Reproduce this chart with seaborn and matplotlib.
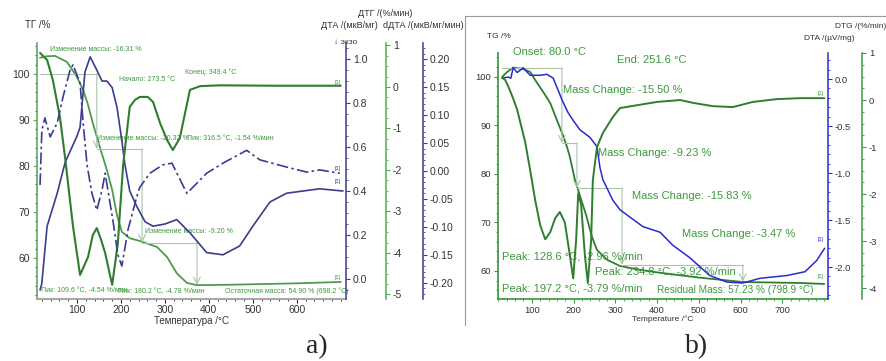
import matplotlib
matplotlib.use("Agg")
import matplotlib.pyplot as plt
from matplotlib.ticker import MultipleLocator, FormatStrFormatter
import numpy as np
import seaborn as sns

sns.set_theme(style="white")
plt.rcParams['font.family'] = ['Liberation Sans', 'DejaVu Sans']

# ---------------- panel a) (Russian, NETZSCH style) ----------------
a_tg_t = [16, 30, 50, 77, 89, 100, 114, 125, 136, 152, 168, 180, 191, 202, 220, 243, 282, 305, 327, 350, 373, 450, 600, 700]
a_tg = [103.5, 103.8, 103.9, 102.6, 100.9, 99.3, 96.5, 93.3, 89.3, 84.1, 79.1, 74.8, 69.3, 65.7, 64.3, 63.7, 62.4, 60.2, 56.7, 54.6, 54.1, 54.2, 54.5, 54.8]

a_dtg_t = [16, 32, 45, 61, 73, 91, 107, 125, 136, 145, 155, 164, 180, 193, 198, 205, 214, 220, 232, 243, 261, 273, 289, 305, 318, 334, 345, 357, 380, 425, 550, 700]
a_dtg = [0.82, 0.65, 0.17, -0.72, -1.71, -3.37, -4.53, -4.1, -3.57, -3.4, -3.69, -4.0, -4.77, -3.76, -2.96, -1.88, -1.04, -0.48, -0.31, -0.24, -0.24, -0.36, -0.87, -1.28, -1.52, -1.23, -0.67, -0.07, 0.02, 0.04, 0.03, 0.03]

a_dta_t = [16, 20, 32, 55, 73, 100, 107, 118, 130, 145, 157, 168, 180, 191, 202, 209, 220, 236, 255, 273, 300, 327, 357, 395, 432, 470, 500, 539, 577, 614, 652, 705]
a_dta = [-0.05, -0.02, 0.24, 0.39, 0.53, 0.65, 0.69, 0.94, 1.01, 0.95, 0.90, 0.90, 0.87, 0.78, 0.63, 0.52, 0.40, 0.33, 0.26, 0.24, 0.25, 0.27, 0.21, 0.12, 0.11, 0.15, 0.24, 0.35, 0.39, 0.40, 0.41, 0.40]

a_ddta_t = [16, 20, 27, 39, 55, 68, 84, 91, 107, 114, 123, 134, 145, 157, 164, 182, 193, 202, 216, 236, 243, 266, 295, 316, 350, 395, 432, 486, 516, 577, 623, 652, 698]
a_ddta = [-0.025, 0.073, 0.095, 0.061, 0.086, 0.132, 0.18, 0.19, 0.157, 0.086, 0.01, -0.04, -0.07, -0.034, -0.004, -0.09, -0.15, -0.17, -0.105, -0.046, -0.029, -0.004, 0.011, 0.014, -0.04, -0.004, 0.014, 0.037, 0.02, 0.007, -0.002, 0.002, -0.004]

a_step_t = [16, 145, 248, 373]
a_mass_changes = [-16.31, -20.32, -9.20]

# ---------------- panel b) (English) ----------------
b_tg_t = [29, 41, 55, 79, 96, 112, 127, 144, 158, 172, 184, 191, 203, 215, 230, 244, 256, 280, 311, 359, 407, 502, 605, 742, 800]
b_tg = [100, 101, 101.9, 101.6, 101, 98.8, 96.9, 94.6, 91.5, 88.5, 85.6, 83.5, 78.8, 75.5, 71.5, 67, 64.3, 62.3, 61, 60.2, 59.6, 58.6, 57.7, 57.5, 57.3]

b_dtg_t = [29, 36, 43, 55, 65, 77, 84, 96, 108, 120, 132, 144, 156, 167, 179, 191, 199, 206, 211, 218, 227, 234, 242, 246, 256, 270, 294, 311, 352, 400, 455, 486, 533, 581, 629, 687, 742, 800]
b_dtg = [0.47, 0.43, 0.3, 0.04, -0.21, -0.64, -0.89, -1.49, -2.13, -2.66, -2.96, -2.81, -2.51, -2.38, -2.6, -3.3, -3.79, -2.98, -1.98, -2.23, -3.3, -3.89, -2.98, -1.7, -1.0, -0.7, -0.36, -0.17, -0.11, -0.04, 0.0, -0.06, -0.13, -0.15, -0.04, 0.02, 0.04, 0.04]

b_dta_t = [29, 43, 50, 55, 65, 74, 79, 96, 120, 136, 151, 163, 172, 187, 199, 215, 239, 256, 263, 270, 294, 311, 335, 366, 407, 438, 478, 526, 567, 605, 646, 711, 754, 782, 801]
b_dta = [0.01, 0.02, 0.01, 0.12, 0.07, 0.1, 0.12, 0.04, 0.04, 0.05, 0.01, -0.12, -0.22, -0.36, -0.44, -0.54, -0.62, -0.72, -0.94, -1.07, -1.29, -1.39, -1.47, -1.57, -1.63, -1.77, -1.90, -2.09, -2.16, -2.17, -2.12, -2.09, -2.05, -1.93, -1.80]

b_step_t = [29, 172, 208, 316, 605]
b_start_level = 101.8
b_mass_changes = [-15.50, -9.23, -15.83, -3.47]

GREEN = "#2f7d2f"
GREEN_L = "#4f9a4f"
TXT_G = "#3c9a3c"
NAVY = "#3c3c8c"
BLUE = "#2a2ad0"
BRACKET = "#a9c4a9"
W, H = 887, 361

fig = plt.figure(figsize=(W / 100, H / 100), dpi=100)


def px_axes(l, r, t, b):
    return [l / W, 1 - b / H, (r - l) / W, (b - t) / H]


def style_twin(ax, pos, color, fmt, major, minor, size):
    for s in ["left", "top", "bottom"]:
        ax.spines[s].set_visible(False)
    ax.spines["right"].set_visible(True)
    ax.spines["right"].set_color(color)
    ax.spines["right"].set_linewidth(1.1)
    if pos is not None:
        ax.spines["right"].set_position(("axes", pos))
    ax.yaxis.set_major_locator(MultipleLocator(major))
    ax.yaxis.set_minor_locator(MultipleLocator(minor))
    ax.yaxis.set_major_formatter(FormatStrFormatter(fmt))
    ax.tick_params(axis="y", which="major", length=3, width=0.8, color=color, labelsize=size, labelcolor="#333333", pad=2, right=True)
    ax.tick_params(axis="y", which="minor", length=1.5, width=0.6, color=color, right=True)
    ax.grid(False)


def brackets(ax, temps, start, changes):
    level = start
    for i, ch in enumerate(changes):
        ax.plot([temps[i], temps[i + 1]], [level, level], color=BRACKET, lw=0.8)
        ax.annotate("", xy=(temps[i + 1], level + ch), xytext=(temps[i + 1], level),
                    arrowprops=dict(arrowstyle="->", color=BRACKET, lw=0.8, shrinkA=0, shrinkB=0))
        level += ch
    return level


# ===== panel a =====
ax = fig.add_axes(px_axes(37, 346, 43, 299))
ax_dta = ax.twinx()
ax_dtg = ax.twinx()
ax_dd = ax.twinx()

sns.lineplot(x=a_tg_t, y=a_tg, ax=ax, color=GREEN_L, lw=1.3)
sns.lineplot(x=a_dtg_t, y=a_dtg, ax=ax_dtg, color=GREEN, lw=1.5)
sns.lineplot(x=a_dta_t, y=a_dta, ax=ax_dta, color=NAVY, lw=1.2)
sns.lineplot(x=a_ddta_t, y=a_ddta, ax=ax_dd, color=NAVY, lw=1.2, linestyle=(0, (7, 2, 1.5, 2)))

ax.set_xlim(9, 712)
ax.set_ylim(51.1, 106.7)
ax_dta.set_ylim(-0.091, 1.073)
ax_dtg.set_ylim(-5.11, 1.06)
ax_dd.set_ylim(-0.229, 0.229)

for s in ["top", "right"]:
    ax.spines[s].set_visible(False)
ax.spines["left"].set_color("#6aa86a")
ax.spines["bottom"].set_color("#9a9a9a")
ax.xaxis.set_minor_locator(MultipleLocator(20))
ax.yaxis.set_major_locator(MultipleLocator(10))
ax.yaxis.set_minor_locator(MultipleLocator(2))
ax.set_xticks([100, 200, 300, 400, 500, 600])
ax.tick_params(axis="both", which="major", length=3, width=0.8, labelsize=7.5, labelcolor="#333333", pad=2, bottom=True, left=True)
ax.tick_params(axis="both", which="minor", length=1.5, width=0.6, bottom=True, left=True)
ax.tick_params(axis="y", colors="#6aa86a", labelcolor="#333333")
ax.tick_params(axis="x", pad=1)
ax.set_xlabel("")
ax.grid(False)

style_twin(ax_dta, None, NAVY, "%.1f", 0.2, 0.05, 7.5)
style_twin(ax_dtg, 1.129, "#4caf4c", "%d", 1, 0.25, 7.5)
style_twin(ax_dd, 1.249, NAVY, "%.2f", 0.05, 0.01, 7.5)

brackets(ax, a_step_t, 100.0, a_mass_changes)

fs_a = 5
ax.text(39, 105.2, "Изменение массы: -16.31 %", color=TXT_G, fontsize=fs_a, va="center")
ax.text(195, 98.7, "Начало: 273.5 °C", color=TXT_G, fontsize=fs_a, va="center")
ax.text(345, 100.4, "Конец: 349.4 °C", color=TXT_G, fontsize=fs_a, va="center")
ax.text(145, 85.9, "Изменение массы: -20.32 %", color=TXT_G, fontsize=fs_a, va="center")
ax.text(350, 85.9, "Пик: 316.5 °C, -1.54 %/мин", color=TXT_G, fontsize=fs_a, va="center")
ax.text(255, 65.7, "Изменение массы: -9.20 %", color=TXT_G, fontsize=fs_a, va="center")
ax.text(18, 53.0, "Пик: 109.6 °C, -4.54 %/мин", color=TXT_G, fontsize=fs_a, va="center")
ax.text(193, 52.8, "Пик: 180.2 °C, -4.78 %/мин", color=TXT_G, fontsize=fs_a, va="center")
ax.text(436, 52.8, "Остаточная масса: 54.90 % (698.2 °C)", color=TXT_G, fontsize=fs_a, va="center")
ax.text(700, 97.6, "[1]", color=TXT_G, fontsize=4, ha="right", va="bottom")
ax.text(700, 79.0, "[1]", color=NAVY, fontsize=4, ha="right", va="bottom")
ax.text(700, 76.0, "[1]", color=NAVY, fontsize=4, ha="right", va="bottom")
ax.text(700, 55.2, "[1]", color=TXT_G, fontsize=4, ha="right", va="bottom")

fig.text(25 / W, 1 - 25 / H, "ТГ /%", fontsize=7, color="#333333", va="center")
fig.text(349 / W, 1 - 25 / H, "ДТА /(мкВ/мг)", fontsize=6.5, color="#333333", va="center", ha="center")
fig.text(385 / W, 1 - 13 / H, "ДТГ /(%/мин)", fontsize=6.5, color="#333333", va="center", ha="center")
fig.text(383 / W, 1 - 25 / H, "dДТА /(мкВ/мг/мин)", fontsize=6.5, color="#333333", va="center")
fig.text(334 / W, 1 - 42 / H, "↓ экзо", fontsize=6, color="#333333", va="center")
fig.text(192 / W, 1 - 321 / H, "Температура /°C", fontsize=7, color="#333333", va="center", ha="center")
fig.text(317 / W, 1 - 347 / H, "a)", fontsize=20, family="Liberation Serif", va="center", ha="center")

# ===== panel b =====
bx = fig.add_axes(px_axes(498, 828, 53, 299))
bx_dta = bx.twinx()
bx_dtg = bx.twinx()

sns.lineplot(x=b_tg_t, y=b_tg, ax=bx, color=GREEN, lw=1.3)
sns.lineplot(x=b_dtg_t, y=b_dtg, ax=bx_dtg, color=GREEN, lw=1.4)
sns.lineplot(x=b_dta_t, y=b_dta, ax=bx_dta, color=BLUE, lw=1.1)

bx.set_xlim(19, 809)
bx.set_ylim(54.2, 104.9)
bx_dta.set_ylim(-2.34, 0.277)
bx_dtg.set_ylim(-4.23, 1.0)

for s in ["top", "right"]:
    bx.spines[s].set_visible(False)
bx.spines["left"].set_color("#3a9a3a")
bx.spines["bottom"].set_color("#3a9a3a")
bx.set_xticks([100, 200, 300, 400, 500, 600, 700])
bx.xaxis.set_minor_locator(MultipleLocator(20))
bx.yaxis.set_major_locator(MultipleLocator(10))
bx.yaxis.set_minor_locator(MultipleLocator(2))
bx.tick_params(axis="both", which="major", length=3, width=0.8, labelsize=6.8, pad=2, bottom=True, left=True, colors="#3a9a3a")
bx.tick_params(axis="both", which="minor", length=1.5, width=0.6, bottom=True, left=True, colors="#3a9a3a")
bx.tick_params(axis="both", labelcolor="#333333")
bx.grid(False)

style_twin(bx_dta, None, BLUE, "%.1f", 0.5, 0.1, 6.8)
style_twin(bx_dtg, 1.103, "#3a9a3a", "%d", 1, 0.25, 6.8)

brackets(bx, b_step_t, b_start_level, b_mass_changes)

fs_b = 8
bx.text(55, 105.2, "Onset: 80.0 °C", color=TXT_G, fontsize=fs_b, va="center")
bx.text(304, 103.5, "End: 251.6 °C", color=TXT_G, fontsize=fs_b, va="center")
bx.text(175, 97.3, "Mass Change: -15.50 %", color=TXT_G, fontsize=fs_b, va="center")
bx.text(258, 84.3, "Mass Change: -9.23 %", color=TXT_G, fontsize=fs_b, va="center")
bx.text(340, 75.5, "Mass Change: -15.83 %", color=TXT_G, fontsize=fs_b, va="center")
bx.text(459, 67.6, "Mass Change: -3.47 %", color=TXT_G, fontsize=fs_b, va="center")
bx.text(29, 62.9, "Peak: 128.6 °C, -2.96 %/min", color=TXT_G, fontsize=fs_b, va="center")
bx.text(251, 59.8, "Peak: 234.8 °C, -3.92 %/min", color=TXT_G, fontsize=fs_b, va="center")
bx.text(29, 56.3, "Peak: 197.2 °C, -3.79 %/min", color=TXT_G, fontsize=fs_b, va="center")
bx.text(400, 56.1, "Residual Mass: 57.23 % (798.9 °C)", color=TXT_G, fontsize=fs_b - 0.8, va="center")
bx.text(800, 96.0, "[1]", color=TXT_G, fontsize=4, ha="right", va="bottom")
bx.text(800, 66.0, "[1]", color=BLUE, fontsize=4, ha="right", va="bottom")
bx.text(800, 58.4, "[1]", color=TXT_G, fontsize=4, ha="right", va="bottom")

fig.text(487 / W, 1 - 37 / H, "TG /%", fontsize=6, color="#333333", va="center")
fig.text(829 / W, 1 - 38 / H, "DTA /(µV/mg)", fontsize=6, color="#333333", va="center", ha="center")
fig.text(861 / W, 1 - 27 / H, "DTG /(%/min)", fontsize=6, color="#333333", va="center", ha="center")
fig.text(663 / W, 1 - 319 / H, "Temperature /°C", fontsize=6, color="#333333", va="center", ha="center")
fig.text(697 / W, 1 - 347 / H, "b)", fontsize=20, family="Liberation Serif", va="center", ha="center")

# frame around panel b
fig.add_artist(plt.Line2D([465 / W, 465 / W], [1 - 325 / H, 1 - 16 / H], color="#9a9a9a", lw=0.8))
fig.add_artist(plt.Line2D([465 / W, 1.0], [1 - 16 / H, 1 - 16 / H], color="#9a9a9a", lw=0.8))

fig.savefig("out.png", dpi=100)
